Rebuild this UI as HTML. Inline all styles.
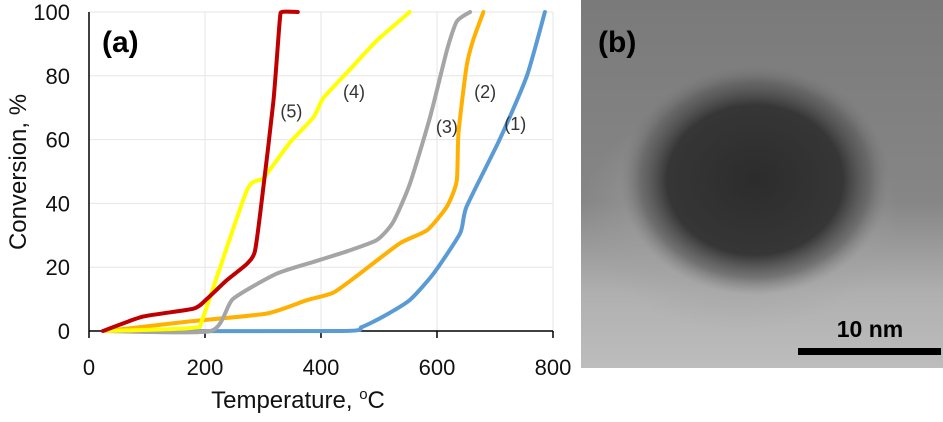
<!DOCTYPE html>
<html><head><meta charset="utf-8"><style>
body{margin:0;background:#fff;}
svg{display:block;font-family:"Liberation Sans",Arial,sans-serif;}
</style></head><body>
<svg id="chart" width="943" height="422" viewBox="0 0 943 422">
<defs>
<radialGradient id="blob" cx="0.5" cy="0.5" r="0.5">
<stop offset="0" stop-color="#2c2c2c"/><stop offset="0.65" stop-color="#363636"/><stop offset="0.85" stop-color="#555" stop-opacity="0.6"/><stop offset="1" stop-color="#777" stop-opacity="0"/>
</radialGradient>
<radialGradient id="shell" cx="0.5" cy="0.5" r="0.5">
<stop offset="0.6" stop-color="#a0a0a0" stop-opacity="0.5"/><stop offset="1" stop-color="#a0a0a0" stop-opacity="0"/>
</radialGradient>
<linearGradient id="bg" x1="0" y1="0" x2="0" y2="1">
<stop offset="0" stop-color="#7a7a7a"/><stop offset="0.55" stop-color="#868686"/><stop offset="0.8" stop-color="#b0b0b0"/><stop offset="1" stop-color="#bdbdbd"/>
</linearGradient>
</defs>
<g id="grid"></g>
<g id="axes"></g>
<g id="series"></g>
<text x="102" y="52" font-size="30" font-weight="bold">(a)</text>
<text x="298" y="408" font-size="24" text-anchor="middle" fill="#111">Temperature, <tspan font-size="15" dy="-9">o</tspan><tspan dy="9">C</tspan></text>
<text transform="translate(26,172) rotate(-90)" font-size="24" text-anchor="middle" fill="#111">Conversion, %</text>
<g>
<rect x="581" y="0" width="362" height="368" fill="url(#bg)"/>
<ellipse cx="740" cy="215" rx="160" ry="115" fill="url(#shell)"/>
<ellipse cx="755" cy="180" rx="135" ry="115" fill="url(#blob)"/>
<text x="598" y="52" font-size="30" font-weight="bold" fill="#000">(b)</text>
<text x="870" y="337" font-size="23" font-weight="bold" text-anchor="middle" fill="#000">10 nm</text>
<rect x="798" y="348" width="143" height="7" fill="#000"/>
</g>
</svg>
<script>
const temp5=[24,93,180,203,238,272,286,298,318,329,333,360];
const conv5=[0,4.5,7,10,16,21,25,41,72,97.5,100,100];
const temp4=[30,180,197,272,301,346,387,404,450,496,553];
const conv4=[0,1,4.5,44,48,59,67,73,82,91,100];
const temp3=[30,210,248,324,393,445,496,524,553,588,617,634,657];
const conv3=[0,0,10,18,22,25,28.5,34,46,67,88,97,100];
const temp2=[30,174,307,376,421,467,536,583,617,634,637,651,662,680];
const conv2=[0,3,5.5,9.7,12,18,27.5,31.6,39,47,62,83,91,100];
const temp1=[30,438,470,507,553,594,640,651,708,755,786];
const conv1=[0,0,1.2,4.5,9.7,18,30.7,39,60,80,100];
const xTicks=[0,200,400,600,800];
const yTicks=[0,20,40,60,80,100];
const seriesLabels=["(1)","(2)","(3)","(4)","(5)"];
const NS="http://www.w3.org/2000/svg";
const X=v=>89+v*116/200;
const Y=v=>331-v*3.19;
function mk(tag,attrs,parent){const e=document.createElementNS(NS,tag);for(const k in attrs)e.setAttribute(k,attrs[k]);parent.appendChild(e);return e;}
function smooth(pts){let d='M'+pts[0][0].toFixed(1)+','+pts[0][1].toFixed(1);
  for(let i=0;i<pts.length-1;i++){const p0=pts[Math.max(i-1,0)],p1=pts[i],p2=pts[i+1],p3=pts[Math.min(i+2,pts.length-1)];
    const t=0.1;
    const c1=[p1[0]+(p2[0]-p0[0])*t,p1[1]+(p2[1]-p0[1])*t],c2=[p2[0]-(p3[0]-p1[0])*t,p2[1]-(p3[1]-p1[1])*t];
    d+=' C'+c1.map(v=>v.toFixed(1))+' '+c2.map(v=>v.toFixed(1))+' '+p2.map(v=>v.toFixed(1));}
  return d;}
const grid=document.getElementById('grid'),axes=document.getElementById('axes'),ser=document.getElementById('series');
yTicks.forEach(t=>{
  if(t>0){const g=mk('line',{x1:X(0),x2:X(800),y1:Y(t),y2:Y(t),stroke:'#e6e6e6','stroke-width':1},grid);
  
  }
  const l=mk('text',{x:70,y:Y(t)+8,'font-size':22,'text-anchor':'end',fill:'#111'},axes);
  
  
  l.textContent=t;
});
xTicks.forEach(t=>{
  if(t>0){const g=mk('line',{x1:X(t),x2:X(t),y1:Y(0),y2:Y(100),stroke:'#e6e6e6','stroke-width':1},grid);
  
  }
  const tk=mk('line',{x1:X(t),x2:X(t),y1:Y(0),y2:Y(0)+7,stroke:'#000','stroke-width':1.5},axes);
  
  
  const l=mk('text',{x:X(t),y:375,'font-size':22,'text-anchor':'middle',fill:'#111'},axes);
  
  
  l.textContent=t;
});
const ax=mk('line',{x1:X(0),x2:X(800),y1:Y(0),y2:Y(0),stroke:'#000','stroke-width':1.5},axes);


const ay=mk('line',{x1:X(0),x2:X(0),y1:Y(0),y2:Y(100),stroke:'#000','stroke-width':1.5},axes);


const defs=[[temp1,conv1,'#5b9bd5','series-1-line'],[temp2,conv2,'#ffb000','series-2-line'],[temp3,conv3,'#a5a5a5','series-3-line'],[temp4,conv4,'#ffff00','series-4-line'],[temp5,conv5,'#c00000','series-5-line']];
defs.forEach(([tx,cy,col,nm])=>{
  const pts=tx.map((t,i)=>[X(t),Y(cy[i])]);
  const p=mk('path',{d:smooth(pts),fill:'none',stroke:col,'stroke-width':4,'stroke-linejoin':'round','stroke-linecap':'round'},ser);
  
  
});
const labelT=[735,683,617,457,349];
const labelC=[63,73,62,73,67];
seriesLabels.forEach((s,i)=>{
  const l=mk('text',{x:X(labelT[i]),y:Y(labelC[i]),'font-size':18,'text-anchor':'middle',fill:'#333'},ser);
  
  
  l.textContent=s;
});
</script>
</body></html>
